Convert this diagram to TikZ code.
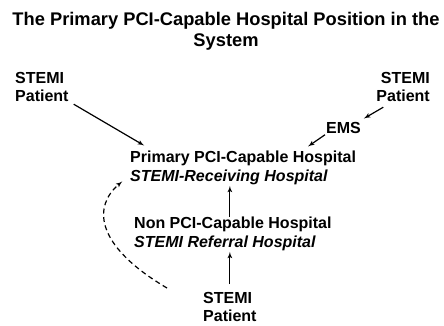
\documentclass[tikz,border=0pt]{standalone}
\usepackage{fontspec}
\setmainfont{Liberation Sans}
\usetikzlibrary{arrows,positioning}

\begin{document}
\begin{tikzpicture}[>=latex', x=1pt, y=-1pt]
	\tikzset{block/.style={rectangle, align=left, inner sep=0pt, font=\fontsize{16}{18.5}\selectfont\bfseries},
		rblock/.style={block, align=right},
		title/.style={align=center, inner sep=0pt, font=\fontsize{18.3}{21}\selectfont\bfseries},
		link/.style={->, line width=1.2pt, shorten >=1pt},
		dlink/.style={link, dashed, dash pattern=on 5pt off 3.5pt}
	}
	\useasboundingbox (0,0) rectangle (444,325);
	\node [title, anchor=north] (head) at (226,12) {The Primary PCI-Capable Hospital Position in the\\System};
	\node [block, anchor=north west] (lp) at (15,72) {STEMI\\Patient};
	\node [rblock, anchor=north east] (rp) at (430,72) {STEMI\\Patient};
	\node [block, anchor=north west] (ems) at (326,122) {EMS};
	\node [block, anchor=north west] (pri) at (130,151) {Primary PCI-Capable Hospital\\\itshape STEMI-Receiving Hospital};
	\node [block, anchor=north west] (non) at (134,217) {Non PCI-Capable Hospital\\\itshape STEMI Referral Hospital};
	\node [block, anchor=north west] (bp) at (203,292) {STEMI\\Patient};
	\draw [link] ([xshift=5pt,yshift=-2pt]lp.south east) -- ([xshift=15pt,yshift=5pt]pri.north west);
	\draw [link] ([xshift=7pt,yshift=-5pt]rp.south west) -- ([xshift=2pt,yshift=3pt]ems.north east);
	\draw [link] ([xshift=-1pt,yshift=-1pt]ems.south west) -- ([xshift=-49pt,yshift=4pt]pri.north east);
	\draw [link] (bp.north |- non.north) -- (bp.north |- pri.south);
	\draw [link] ([yshift=8pt]bp.north) -- (bp.north |- non.south);
	\draw [dlink] ([xshift=-36pt,yshift=4pt]bp.north west) .. controls +(-73,-43) and +(-30,25) .. ([xshift=-7pt,yshift=4pt]pri.south west);
\end{tikzpicture}
\end{document}
